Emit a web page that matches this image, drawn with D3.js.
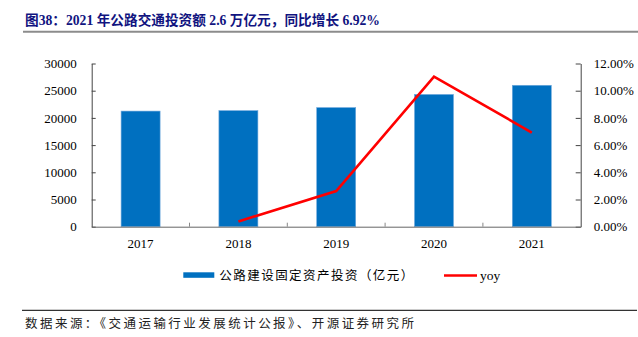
<!DOCTYPE html>
<html><head><meta charset="utf-8">
<script src="https://cdn.jsdelivr.net/npm/d3@7/dist/d3.min.js"></script>
<style>body{margin:0;background:#fff}svg{display:block}</style>
</head><body>
<svg id="c" width="638" height="337"></svg>
<script>
const years = ["2017","2018","2019","2020","2021"];
const investment = [21253, 21335, 21895, 24312, 25995];
const yoyYears = ["2018","2019","2020","2021"];
const yoy = [0.39, 2.62, 11.04, 6.92];
const leftTicks = [0,5000,10000,15000,20000,25000,30000];
const rightTicks = [0,2,4,6,8,10,12];
const title = "图38：2021 年公路交通投资额 2.6 万亿元，同比增长 6.92%";
const source = "数据来源：《交通运输行业发展统计公报》、开源证券研究所";
const legendBar = "公路建设固定资产投资（亿元）";
const legendLine = "yoy";

const svg = d3.select("#c");
const serif = "'Liberation Serif','Times New Roman',serif";
const cjk = "'Liberation Serif','Noto Sans CJK SC',serif";

// title
svg.append("text").attr("x",25).attr("y",24.5)
  .attr("font-family",cjk).attr("font-weight","bold").attr("font-size",13.8)
  .attr("textLength",355).attr("lengthAdjust","spacingAndGlyphs")
  .attr("fill","#111480").text(title);
svg.append("line").attr("x1",23).attr("x2",638).attr("y1",31.8).attr("y2",31.8)
  .attr("stroke","#8c8c8c").attr("stroke-width",2);

const L = 91.7, R = 580.7, T = 63.5, B = 226.7;
const xb = d3.scaleBand().domain(years).range([L,R]);
const yL = d3.scaleLinear().domain([0,30000]).range([B,T]);
const yR = d3.scaleLinear().domain([0,12]).range([B,T]);

// bars
svg.append("g").selectAll("rect").data(years).join("rect")
  .attr("x",d=>xb(d)+xb.bandwidth()/2-19.5)
  .attr("width",39)
  .attr("y",(d,i)=>yL(investment[i]))
  .attr("height",(d,i)=>B-yL(investment[i]))
  .attr("fill","#0070C0").attr("stroke","#6fa8dc").attr("stroke-width",0.6);

// axes
const axStyle = g => {
  g.select(".domain").attr("stroke","#444").attr("stroke-width",1);
  g.selectAll(".tick line").attr("stroke","#444");
  g.selectAll("text").attr("font-family",serif).attr("font-size",13).attr("fill","#000");
};
svg.append("g").attr("transform",`translate(${L},0)`)
  .call(d3.axisLeft(yL).tickValues(leftTicks).tickSizeInner(-4).tickSizeOuter(0).tickPadding(15).tickFormat(d3.format("d")))
  .call(axStyle);
svg.append("g").attr("transform",`translate(${R},0)`)
  .call(d3.axisRight(yR).tickValues(rightTicks).tickSizeInner(-5).tickSizeOuter(0).tickPadding(13).tickFormat(d=>d.toFixed(2)+"%"))
  .call(axStyle);
const xa = svg.append("g").attr("transform",`translate(0,${B})`)
  .call(d3.axisBottom(xb).tickSize(0).tickPadding(12))
  .call(axStyle);
xa.select(".domain").attr("stroke","#666");
// category separator ticks (inward)
svg.append("g").selectAll("line").data(years.slice(1)).join("line")
  .attr("x1",d=>xb(d)).attr("x2",d=>xb(d)).attr("y1",B).attr("y2",B-4)
  .attr("stroke","#888");

// line
const line = d3.line().x(d=>xb(d[0])+xb.bandwidth()/2).y(d=>yR(d[1]));
svg.append("path").datum(yoyYears.map((d,i)=>[d,yoy[i]]))
  .attr("d",line).attr("fill","none").attr("stroke","#FF0000").attr("stroke-width",2.6);

// legend
svg.append("rect").attr("x",183.3).attr("y",272.3).attr("width",31).attr("height",5.5).attr("fill","#0070C0");
svg.append("text").attr("x",219.3).attr("y",280).attr("font-family","'Noto Sans CJK SC',sans-serif")
  .attr("font-size",12.5).attr("textLength",194).attr("lengthAdjust","spacing")
  .attr("fill","#000").text(legendBar);
svg.append("line").attr("x1",444).attr("x2",477).attr("y1",275.5).attr("y2",275.5)
  .attr("stroke","#FF0000").attr("stroke-width",2.6);
svg.append("text").attr("x",480).attr("y",280).attr("font-family",serif)
  .attr("font-size",13.5).attr("fill","#000").text(legendLine);

// footer
svg.append("line").attr("x1",22).attr("x2",637).attr("y1",310.3).attr("y2",310.3)
  .attr("stroke","#333").attr("stroke-width",1.2);
svg.append("text").attr("x",25).attr("y",327.5).attr("font-family","'Noto Sans CJK SC',sans-serif")
  .attr("font-size",12.5).attr("textLength",389).attr("lengthAdjust","spacing")
  .attr("fill","#222").text(source);
</script>
</body></html>
